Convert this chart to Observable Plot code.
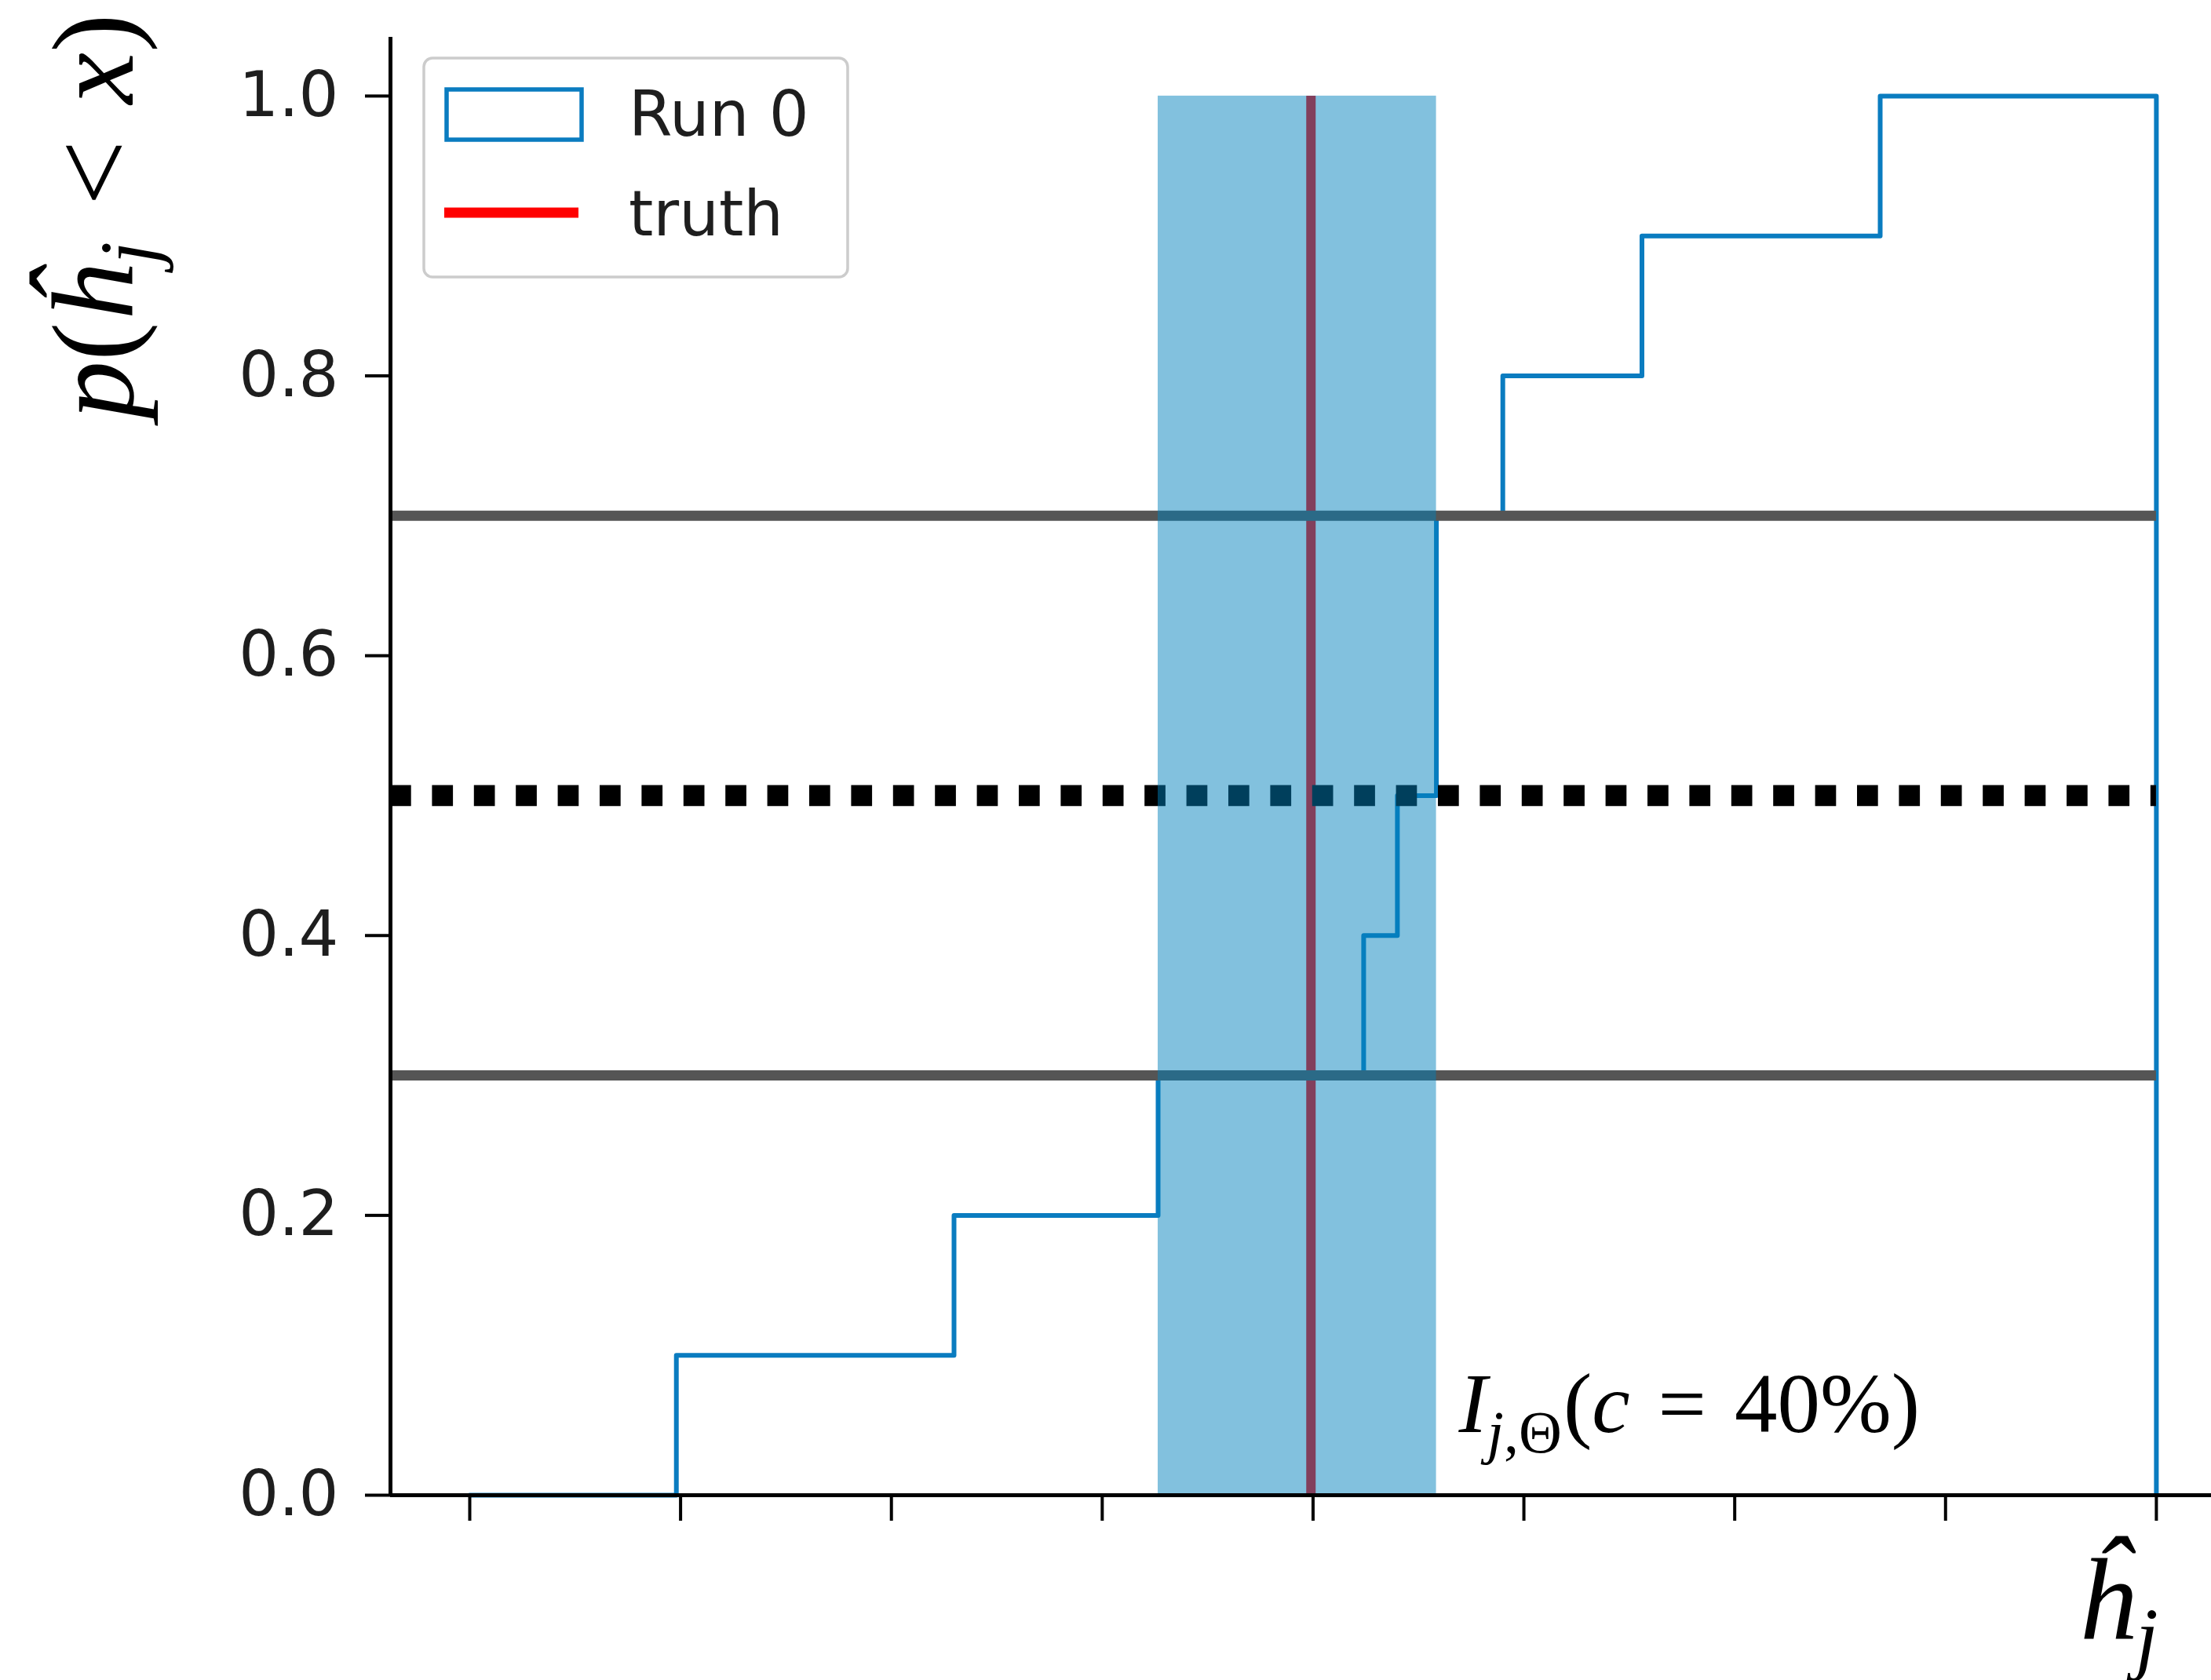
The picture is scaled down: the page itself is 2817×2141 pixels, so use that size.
<!DOCTYPE html>
<html>
<head>
<meta charset="utf-8">
<script src="https://cdn.jsdelivr.net/npm/d3@7"></script>
<script src="https://cdn.jsdelivr.net/npm/@observablehq/plot@0.6"></script>
<style>
  body { margin: 0; background: #fff; }
  #wrap { position: relative; width: 2817px; height: 2141px; overflow: hidden; background: #fff; }
  #legend { position: absolute; left: 539px; top: 73px; }
</style>
</head>
<body>
<div id="wrap"></div>
<script>
// ---- data ----
const stepEdges = [0, 0.98, 2.297, 3.265, 4.24, 4.40, 4.585, 4.90, 5.56, 6.69, 8.0];
const cdfValues = [0, 0.1, 0.2, 0.3, 0.4, 0.5, 0.7, 0.8, 0.9, 1.0, 0];
const truthValue = 3.99;
const intervalBounds = [3.265, 4.585];
const quantileLines = [0.3, 0.7];
const medianLine = [0.5];
const xTicks = [0, 1, 2, 3, 4, 5, 6, 7, 8];
const yTicks = [0, 0.2, 0.4, 0.6, 0.8, 1.0];
const xDomain = [-0.376, 8.261];
const yDomain = [0, 1.042];
const legendLabels = ["Run 0", "truth"];
const yLabelText = "p(ĥj < x)";
const xLabelText = "ĥj";
const annotationText = "Ij,Θ(c = 40%)";

const runColor = "#0a7cc0";
const bandColor = "#0081bc";

const stepData = stepEdges.map((e, i) => ({edge: e, p: cdfValues[i]}));
const x0 = xDomain[0];
const xEnd = stepEdges[stepEdges.length - 1];

const plot = Plot.plot({
  width: 2817,
  height: 2141,
  marginLeft: 497,
  marginRight: 0,
  marginTop: 47,
  marginBottom: 236,
  x: {domain: xDomain},
  y: {domain: yDomain},
  style: {background: "white", fontFamily: "DejaVu Sans", fontSize: "80px", color: "black", overflow: "visible"},
  marks: [
    Plot.ruleX([truthValue], {y1: 0, y2: 1, stroke: "red", strokeWidth: 12}),
    Plot.line(stepData, {x: "edge", y: "p", curve: "step-after", stroke: runColor, strokeWidth: 6}),
    Plot.ruleY(quantileLines, {x1: x0, x2: xEnd, stroke: "#555555", strokeWidth: 13}),
    Plot.ruleY(medianLine, {x1: x0, x2: xEnd, stroke: "black", strokeWidth: 26.7, strokeDasharray: "26.7,26.7"}),
    Plot.rect([intervalBounds], {x1: d => d[0], x2: d => d[1], y1: 0, y2: 1, fill: bandColor, fillOpacity: 0.49}),
    Plot.ruleY([0], {stroke: "black", strokeWidth: 5}),
    Plot.ruleX([x0], {stroke: "black", strokeWidth: 5}),
    Plot.axisX({ticks: xTicks, tickFormat: () => "", tickSize: 33, strokeWidth: 4, label: null}),
    Plot.axisY({ticks: yTicks, tickFormat: d => d.toFixed(1), tickSize: 32, tickPadding: 34, strokeWidth: 4, label: null, fontSize: 80, fill: "#1e1e1e"}),
    Plot.text([annotationText], {x: 4.691, y: 0.0454, textAnchor: "start", lineAnchor: "bottom", fontFamily: "Liberation Serif", fontSize: 109, fill: "black"}),
    Plot.text([yLabelText], {frameAnchor: "left", y: 0.914, dx: -329, rotate: -90, textAnchor: "middle", lineAnchor: "bottom", fontFamily: "Liberation Serif", fontSize: 148, fill: "black"}),
    Plot.text([xLabelText], {frameAnchor: "bottom", x: 7.625, dy: 183, textAnchor: "start", lineAnchor: "bottom", fontFamily: "Liberation Serif", fontSize: 148, fill: "black"})
  ]
});

// rich (math-like) text: italics and subscripts, as real text
function rich(svg, key, parts) {
  svg.querySelectorAll("text").forEach(t => {
    if (t.textContent !== key) return;
    t.textContent = "";
    let shift = 0;
    for (const p of parts) {
      const ts = document.createElementNS("http://www.w3.org/2000/svg", "tspan");
      ts.textContent = p.t;
      if (p.italic) ts.setAttribute("font-style", "italic");
      const target = p.sub || 0;
      if (target !== shift) { ts.setAttribute("dy", target - shift); shift = target; }
      if (p.size) ts.setAttribute("font-size", p.size);
      if (p.dx) ts.setAttribute("dx", p.dx);
      t.appendChild(ts);
    }
  });
}
rich(plot, annotationText, [
  {t: "I", italic: true},
  {t: "j", italic: true, sub: 26, size: 76},
  {t: ",Θ", sub: 26, size: 76},
  {t: "(", dx: 2},
  {t: "c", italic: true},
  {t: "=", dx: 36},
  {t: "40%)", dx: 36}
]);
rich(plot, yLabelText, [
  {t: "p", italic: true},
  {t: "("},
  {t: "ĥ", italic: true},
  {t: "j", italic: true, sub: 30, size: 104},
  {t: "<", dx: 46},
  {t: "x", italic: true, dx: 46},
  {t: ")"}
]);
rich(plot, xLabelText, [
  {t: "ĥ", italic: true},
  {t: "j", italic: true, sub: 32, size: 104}
]);

const wrap = document.getElementById("wrap");
wrap.appendChild(plot);

// legend (matplotlib-style box inside the axes)
const lg = d3.select(wrap).append("svg")
  .attr("id", "legend").attr("width", 544).attr("height", 284)
  .style("position", "absolute").style("left", "538px").style("top", "72px");
lg.append("rect").attr("x", 2).attr("y", 2).attr("width", 540).attr("height", 279).attr("rx", 11)
  .attr("fill", "rgba(255,255,255,0.8)").attr("stroke", "#cccccc").attr("stroke-width", 3.5);
lg.append("rect").attr("x", 31).attr("y", 42).attr("width", 172).attr("height", 64)
  .attr("fill", "none").attr("stroke", runColor).attr("stroke-width", 5.5);
lg.append("line").attr("x1", 28).attr("x2", 199).attr("y1", 199).attr("y2", 199)
  .attr("stroke", "red").attr("stroke-width", 13);
lg.selectAll("text.lbl").data(legendLabels).join("text").attr("class", "lbl")
  .attr("x", 263).attr("y", (d, i) => 101 + i * 127)
  .attr("font-family", "DejaVu Sans").attr("font-size", 80).attr("fill", "#1e1e1e")
  .text(d => d);
</script>
</body>
</html>
